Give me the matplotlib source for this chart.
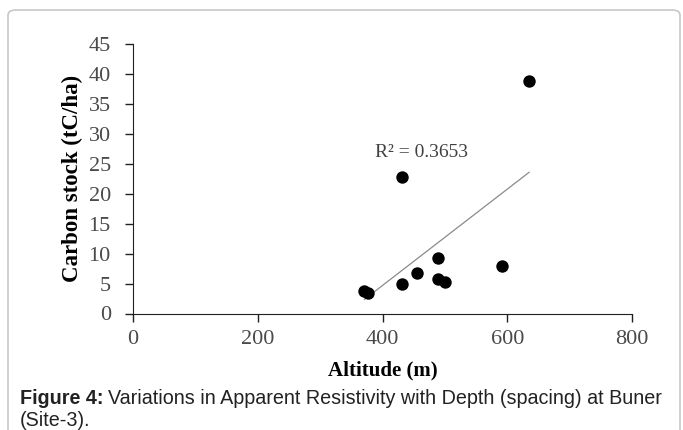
import numpy as np
import matplotlib
matplotlib.use("Agg")
import matplotlib.pyplot as plt
from matplotlib.patches import FancyBboxPatch

# data
altitude = [371, 377, 432, 456, 489, 489, 500, 591, 431, 635]
carbon = [3.7, 3.5, 4.9, 6.8, 9.3, 5.7, 5.2, 8.0, 22.8, 38.9]
r2_label = "R\u00b2 = 0.3653"
x_ticks = [0, 200, 400, 600, 800]
y_ticks = list(range(0, 50, 5))

W, H = 683, 430
fig = plt.figure(figsize=(W / 100, H / 100), dpi=100)

# rounded frame around the figure
frame = FancyBboxPatch((8 / W, -0.2), 672 / W, 1.2 - 10 / H,
                       boxstyle="round,pad=0,rounding_size=0.012",
                       transform=fig.transFigure, fill=False,
                       edgecolor="#c8c8c8", linewidth=1.2)
fig.patches.append(frame)

ax = fig.add_axes([133 / W, 1 - 313.5 / H, 499 / W, 269.5 / H])
serif = "Liberation Serif"

ax.scatter(altitude, carbon, s=80, color="black", zorder=3, linewidths=0)

# linear trend line over the data range
x = np.array(altitude, dtype=float)
y = np.array(carbon, dtype=float)
k, b = np.polyfit(x, y, 1)
xs = np.array([x.min(), x.max()])
ax.plot(xs, k * xs + b, color="#8a8a8a", linewidth=0.9, zorder=2)

ax.text(388, 26.8, r2_label, fontsize=14, family=serif, color="#404040",
        va="center", ha="left")

ax.set_xlim(0, 800)
ax.set_ylim(0, 45)
ax.set_xticks(x_ticks)
ax.set_yticks(y_ticks)
ax.spines["top"].set_visible(False)
ax.spines["right"].set_visible(False)
ax.spines["left"].set_color("#202020")
ax.spines["bottom"].set_color("#202020")
ax.tick_params(axis="both", direction="out", length=6, width=1,
               color="#202020", labelsize=16, labelcolor="#4a4a4a")
ax.tick_params(axis="x", pad=6)
ax.tick_params(axis="y", pad=10)
for lab in ax.get_xticklabels() + ax.get_yticklabels():
    lab.set_family(serif)

ax.set_xlabel("Altitude (m)", fontsize=15, family=serif, fontweight="bold",
              labelpad=8)
ax.set_ylabel("Carbon stock (tC/ha)", fontsize=16.5, family=serif,
              fontweight="bold", labelpad=4)

# caption: bold lead-in followed by regular text
sans = "Liberation Sans"
cap_size = 14.2
lead = fig.text(20 / W, 1 - 399 / H, "Figure 4:", fontsize=cap_size,
                family=sans, fontweight="bold", va="center", color="#222222")
fig.canvas.draw()
bb = lead.get_window_extent()
fig.text(bb.x1 / W + 5 / W, 1 - 399 / H,
         "Variations in Apparent Resistivity with Depth (spacing) at Buner",
         fontsize=cap_size, family=sans, va="center", color="#222222")
fig.text(20 / W, 1 - 421 / H, "(Site-3).", fontsize=cap_size, family=sans,
         va="center", color="#222222")

fig.savefig("out.png", dpi=100)
